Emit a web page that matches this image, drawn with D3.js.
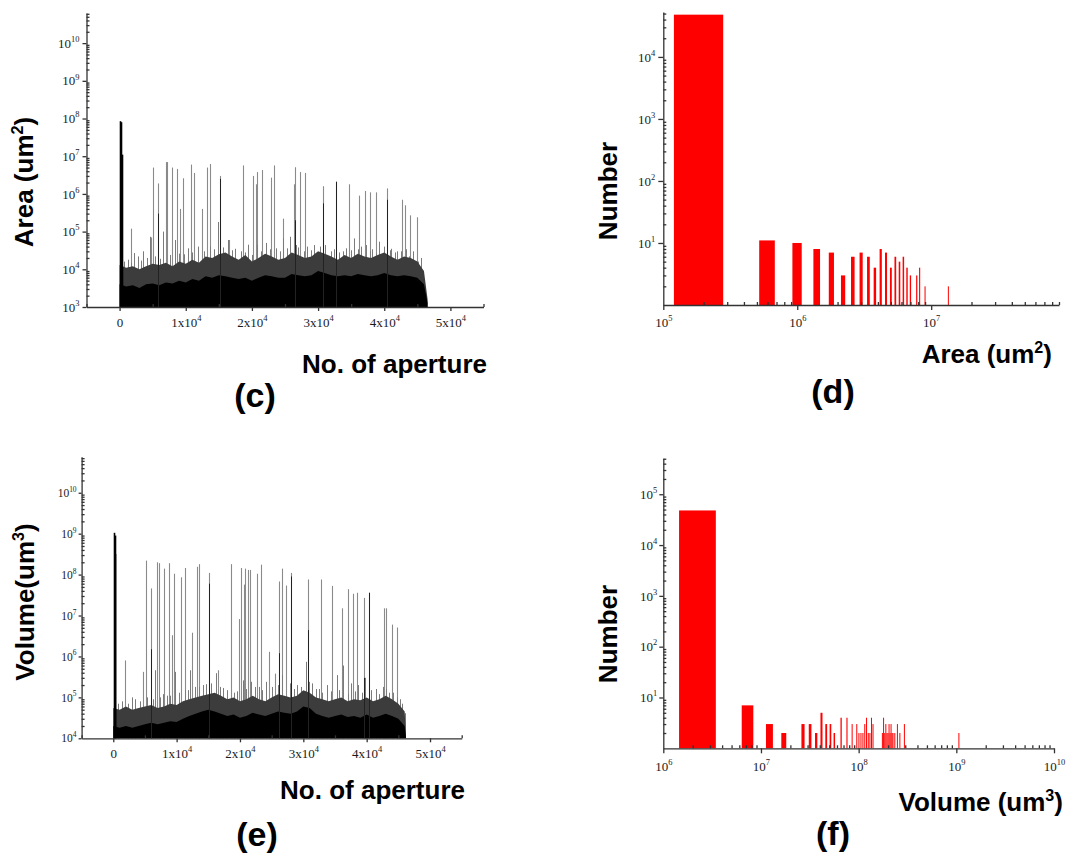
<!DOCTYPE html>
<html>
<head>
<meta charset="utf-8">
<script src="https://cdn.jsdelivr.net/npm/d3@7"></script>
<style>
    body { margin: 0; background: #fff; }
    svg { display: block; }
    .tick text { font-family: "Liberation Serif", "Times New Roman", serif; fill: #1a1a1a; }
    .domain, .tick line { stroke: #333; stroke-width: 1.3; }
    .title { font-family: "Liberation Sans", Arial, sans-serif; font-weight: bold; fill: #000; }
</style>
</head>
<body>
<div id="chart"></div>
<script>
// ---------- data ----------

// dense part of the aperture plots, read every 1000 apertures
const bandSteps = [0, 1000, 2000, 3000, 4000, 5000, 6000, 7000, 8000, 9000,
    10000, 11000, 12000, 13000, 14000, 15000, 16000, 17000, 18000, 19000,
    20000, 21000, 22000, 23000, 24000, 25000, 26000, 27000, 28000, 29000,
    30000, 31000, 32000, 33000, 34000, 35000, 36000, 37000, 38000, 39000,
    40000, 41000, 42000, 43000, 44000, 45000, 46000];
const areaEnd = 46550;
const volumeEnd = 46200;

// (c) area: grey band top and black core top (um2), last value is the end point
const areaBand = [13000, 11000, 12000, 10000, 12000, 14000, 13000, 15000, 12000, 16000,
    14000, 18000, 15000, 22000, 20000, 25000, 28000, 22000, 18000, 24000,
    16000, 20000, 26000, 22000, 18000, 20000, 28000, 24000, 20000, 22000,
    30000, 26000, 22000, 18000, 24000, 20000, 26000, 22000, 20000, 24000,
    28000, 22000, 18000, 22000, 20000, 16000, 9000, 1600];
const areaCore = [4000, 3500, 3800, 3200, 4000, 4200, 3800, 4500, 4200, 5000,
    4500, 5500, 5000, 6500, 6000, 7000, 6500, 6000, 5500, 6000,
    5000, 6000, 7000, 6500, 6000, 6000, 7500, 7000, 6500, 7000,
    9000, 8000, 7000, 6500, 7000, 6500, 7500, 7000, 6500, 7000,
    8000, 7000, 6500, 7000, 6500, 6000, 4000, 1300];

// (c) spikes [aperture no., area]
const areaPeak = [[60, 8.5e7], [200, 8e7], [350, 1.1e7]];
const areaSpikes = [[1717, 1.2e5], [4750, 7e4], [5050, 5e6], [5860, 1.9e6], [6970, 7e6],
    [7220, 7e6], [7930, 5e6], [8740, 4.6e6], [9190, 4e5], [9550, 2.6e6],
    [10760, 6e6], [11310, 3.6e6], [12420, 4e5], [13180, 5e6], [13640, 6.2e6],
    [15150, 3e6], [16520, 6e4], [18640, 5.7e6], [20200, 3e6], [20560, 1.8e6],
    [20810, 3.8e6], [21460, 4.3e6], [22830, 2.7e6], [23380, 5.7e6], [24700, 2.2e5],
    [26310, 1.8e6], [26570, 5.1e6], [27270, 3.8e6], [27980, 3.6e6], [30760, 1.6e6],
    [32780, 2.1e6], [34650, 1.8e6], [36160, 9e5], [37070, 1.2e6], [37880, 1.1e6],
    [38690, 1.1e6], [40400, 1.4e6], [42680, 7e5], [43130, 5e5], [43940, 2.7e5],
    [44950, 2.4e5]];
const areaDarkSpikes = [[5860, 3e5], [15150, 2.5e6], [26570, 2e5], [30760, 5.6e5],
    [32780, 2.1e6], [40400, 7e5]];
const areaSmallSpikes = [[600, 16000], [1300, 18000], [1800, 15000], [2200, 27000],
    [2850, 22000], [3200, 17000], [3600, 30000], [4100, 20000], [4600, 73000],
    [5400, 22000], [6100, 19000], [6600, 100000], [7600, 24000], [8400, 60000],
    [9000, 26000], [9700, 25000], [10400, 36000], [11000, 28000], [11900, 40000],
    [12800, 30000], [13700, 40000], [14200, 34000], [14900, 180000], [15600, 38000],
    [16400, 60000], [17000, 32000], [17500, 35000], [18400, 30000], [18900, 28000],
    [19400, 45000], [20000, 24000], [20700, 45000], [21300, 30000], [22200, 50000],
    [22800, 34000], [23700, 36000], [24200, 30000], [24700, 66000], [25300, 36000],
    [25800, 73000], [26600, 44000], [27000, 38000], [27800, 30000], [28400, 40000],
    [29000, 32000], [29400, 44000], [30300, 40000], [31100, 44000], [31900, 30000],
    [32400, 34000], [33200, 28000], [33800, 30000], [34200, 36000], [35000, 32000],
    [35400, 66000], [36000, 34000], [36500, 40000], [37200, 44000], [37800, 30000],
    [38200, 34000], [38700, 26000], [39200, 54000], [40000, 40000], [40800, 32000],
    [41000, 35000], [41600, 28000], [42000, 30000], [42500, 30000], [43300, 34000],
    [43800, 22000], [44400, 30000], [45100, 16000], [45600, 20000]];

// (e) volume: grey band top and black core top (um3)
const volumeBand = [55000, 50000, 60000, 50000, 55000, 60000, 65000, 55000, 60000, 70000,
    65000, 80000, 90000, 100000, 110000, 120000, 130000, 110000, 90000, 100000,
    80000, 90000, 110000, 90000, 80000, 100000, 120000, 110000, 100000, 110000,
    150000, 130000, 100000, 90000, 80000, 90000, 100000, 80000, 90000, 85000,
    100000, 80000, 90000, 110000, 90000, 70000, 45000, 12000];
const volumeCore = [20000, 18000, 20000, 18000, 20000, 22000, 24000, 22000, 24000, 26000,
    25000, 30000, 35000, 40000, 45000, 50000, 45000, 40000, 35000, 38000,
    32000, 35000, 42000, 38000, 35000, 40000, 45000, 42000, 40000, 45000,
    60000, 55000, 40000, 35000, 32000, 35000, 38000, 33000, 35000, 32000,
    38000, 32000, 35000, 40000, 35000, 30000, 20000, 11000];

// (e) spikes [aperture no., volume]
const volumePeak = [[60, 1.05e9], [200, 9e8], [350, 3.2e8]];
const volumeSpikes = [[1840, 8e5], [4740, 4.2e5], [5100, 2.2e8], [5890, 4.6e7], [6840, 2.0e8],
    [7160, 1.9e8], [8000, 1.4e8], [8790, 1.9e8], [9210, 3.3e6], [9530, 1.05e8],
    [10680, 8.6e7], [11370, 1.45e8], [12420, 3.8e6], [13210, 1.55e8], [13580, 1.8e8],
    [15100, 1.1e8], [16580, 4.6e5], [18630, 1.8e8], [19790, 8.2e6], [20160, 1.45e8],
    [20580, 5.7e7], [20840, 1.4e8], [21320, 1.3e8], [21580, 1.3e8], [22680, 1.05e8],
    [23320, 1.75e8], [24630, 1.3e6], [25580, 3.8e5], [26210, 6.8e7], [26580, 1.4e8],
    [27210, 5.4e7], [28000, 1.1e8], [30790, 7.6e7], [32740, 7.6e7], [34580, 5.3e7],
    [36110, 1.5e7], [37000, 4.4e7], [37890, 3.4e7], [38530, 3.6e7], [39630, 2.7e7],
    [40320, 3.6e7], [42740, 1.5e7], [43050, 1.5e7], [43950, 6e6], [44840, 5.1e6]];
const volumeDarkSpikes = [[5890, 1.5e6], [15100, 6e7], [26210, 1.2e6], [28000, 9e7],
    [30790, 4.4e6], [39630, 3e5], [40320, 3.6e7]];
const volumeSmallSpikes = [[700, 7e4], [1400, 8e4], [2400, 7e4], [2900, 1e5], [3400, 9e4],
    [4200, 8e4], [5400, 1e5], [6200, 9e4], [6600, 4.6e5], [7400, 1e5], [7900, 1.2e5],
    [8500, 1.1e5], [9000, 1.1e5], [9750, 4.2e5], [10300, 1.3e5], [11300, 1.5e5],
    [11800, 1.5e5], [12100, 4.6e5], [12900, 1.8e5], [13600, 1.8e5], [14200, 2e5],
    [14700, 2.1e5], [15500, 2.2e5], [16200, 3.9e5], [16800, 1.8e5], [17300, 1.7e5],
    [18000, 1.5e5], [19100, 1.3e5], [19600, 1.4e5], [20400, 2.6e5], [21000, 1.6e5],
    [21700, 2.4e5], [22300, 1.8e5], [23000, 1.8e5], [23500, 1.5e5], [24100, 2.4e5],
    [25000, 1.8e5], [26000, 2e5], [26600, 3.5e5], [27900, 2.2e5], [28500, 1.6e5],
    [29000, 2e5], [29600, 1.8e5], [30400, 7.4e5], [30900, 2.4e5], [31300, 2.2e5],
    [32000, 1.6e5], [32400, 1.6e5], [33000, 1.3e5], [33700, 2e5], [34300, 1.4e5],
    [35300, 3.5e5], [35700, 1.5e5], [36300, 6e5], [37000, 1.2e5], [37600, 2.2e5],
    [38200, 1.4e5], [38700, 2e5], [39300, 1.3e5], [39700, 3e5], [40700, 1.5e5],
    [41500, 1.6e5], [41900, 1.2e5], [42600, 1.8e5], [43000, 1.6e5], [43600, 1.3e5],
    [44200, 1.3e5], [44800, 1e5], [45200, 9e4], [45600, 7e4], [46100, 4.1e4]];

// (d) area histogram: bin centres (um2) and counts
const areaBins = [2e5, 6e5, 1.0e6, 1.4e6, 1.8e6, 2.2e6, 2.6e6, 3.0e6, 3.4e6, 3.8e6,
    4.2e6, 4.6e6, 5.0e6, 5.4e6, 5.8e6, 6.2e6, 6.6e6, 7.0e6, 7.8e6, 8.2e6, 9.0e6, 13.4e6];
const areaCounts = [48000, 11, 10, 8, 7, 3, 6, 7, 6, 4,
    8, 7, 4, 6, 5, 6, 4, 3, 3, 4, 2, 2];

// (f) volume histogram: bin centres (um3) and counts
const volumeBins = [2.45e6, 7.35e6, 12.25e6, 17.15e6, 26.95e6, 31.85e6, 36.75e6, 41.65e6,
    46.55e6, 51.45e6, 56.35e6, 66.15e6, 75.95e6, 85.75e6, 95.55e6, 100.45e6, 105.35e6,
    110.25e6, 115.15e6, 120.05e6, 124.95e6, 129.85e6, 134.75e6, 139.65e6, 173.95e6,
    178.85e6, 183.75e6, 188.65e6, 193.55e6, 198.45e6, 203.35e6, 208.25e6, 213.15e6,
    218.05e6, 222.95e6, 232.75e6, 247.45e6, 262.15e6, 291.55e6, 1051.05e6];
const volumeCounts = [48000, 7, 3, 2, 3, 3, 2, 5, 3, 3, 2, 4, 4, 3, 3, 2, 2, 2, 3, 4,
    2, 2, 4, 3, 2, 4, 2, 3, 2, 2, 3, 2, 3, 2, 2, 2, 3, 2, 3, 2];

// tick labels
const apertureTicks = [0, 10000, 20000, 30000, 40000, 50000];
const apertureLabels = [["0", ""], ["1x10", "4"], ["2x10", "4"], ["3x10", "4"], ["4x10", "4"], ["5x10", "4"]];
const apertureMinor = [-5000, 5000, 15000, 25000, 35000, 45000, 55000];

// ---------- drawing ----------
const svg = d3.select("#chart").append("svg")
              .attr("width", 1066)
              .attr("height", 855);

svg.append("rect").attr("width", 1066).attr("height", 855).attr("fill", "#fff");

// replace a tick label with base + superscript
function supText(text, base, exp, size) {
    text.text(null);
    text.append("tspan").text(base);
    if (exp) {
        text.append("tspan")
            .attr("dy", -size * 0.45)
            .attr("font-size", size * 0.65)
            .text(exp);
    }
}

// log minor ticks (2..9 of each decade) inside the domain
function logMinors(scale) {
    const [lo, hi] = scale.domain();
    const out = [];
    for (let e = Math.floor(Math.log10(lo)); e <= Math.ceil(Math.log10(hi)); e++) {
        for (let m = 2; m <= 9; m++) {
            const v = m * Math.pow(10, e);
            if (v > lo * 1.0001 && v <= hi * 1.0001) out.push(v);
        }
    }
    return out;
}

// left log axis with 10^n labels
function leftLogAxis(xPos, y, majors, size, tick, pad) {
    const g = svg.append("g").attr("transform", `translate(${xPos},0)`);
    g.append("g")
     .call(d3.axisLeft(y).tickValues(logMinors(y)).tickSizeInner(-3).tickSizeOuter(0).tickFormat(""))
     .call(a => a.select(".domain").remove());
    g.append("g")
     .call(d3.axisLeft(y).tickValues(majors).tickSizeInner(tick).tickSizeOuter(0).tickPadding(pad))
     .call(a => a.selectAll(".tick text")
                 .attr("font-size", size)
                 .each(function(d) { supText(d3.select(this), "10", String(Math.round(Math.log10(d))), size); }));
}

// bottom log axis with 10^n labels
function bottomLogAxis(yPos, x, majors, size, pad) {
    const g = svg.append("g").attr("transform", `translate(0,${yPos})`);
    g.append("g")
     .call(d3.axisBottom(x).tickValues(logMinors(x)).tickSizeInner(-3).tickSizeOuter(0).tickFormat(""))
     .call(a => a.select(".domain").remove());
    g.append("g")
     .call(d3.axisBottom(x).tickValues(majors).tickSizeInner(5).tickSizeOuter(0).tickPadding(pad))
     .call(a => a.selectAll(".tick text")
                 .attr("font-size", size)
                 .each(function(d) { supText(d3.select(this), "10", String(Math.round(Math.log10(d))), size); }));
}

// bottom aperture axis
function apertureAxis(yPos, x, size, pad) {
    const g = svg.append("g").attr("transform", `translate(0,${yPos})`);
    g.append("g")
     .call(d3.axisBottom(x).tickValues(apertureMinor).tickSizeInner(-3).tickSizeOuter(0).tickFormat(""))
     .call(a => a.select(".domain").remove());
    g.append("g")
     .call(d3.axisBottom(x).tickValues(apertureTicks).tickSizeInner(4).tickSizeOuter(0).tickPadding(pad))
     .call(a => a.selectAll(".tick text")
                 .attr("font-size", size)
                 .each(function(d, i) { supText(d3.select(this), apertureLabels[i][0], apertureLabels[i][1], size); }));
}

// bold title with optional superscript part
function title(x, y, parts, size, rotate, anchor) {
    const t = svg.append("text")
                 .attr("class", "title")
                 .attr("font-size", size)
                 .attr("text-anchor", anchor)
                 .attr("transform", `translate(${x},${y})` + (rotate ? " rotate(-90)" : ""));
    parts.forEach(([s, up]) => {
        t.append("tspan")
         .attr("dy", up === 1 ? -size * 0.38 : up === -1 ? size * 0.38 : 0)
         .attr("font-size", up === 1 ? size * 0.62 : size)
         .text(s);
    });
}

// aperture spectrum panel
function spectrum(x, y, end, band, core, spikes, darkSpikes, smallSpikes, peak) {
    const y0 = y.range()[0];
    const g = svg.append("g");

    const line = (data, color, w) => g.append("g")
        .selectAll("line")
        .data(data)
        .join("line")
        .attr("x1", d => Math.round(x(d[0])) + 0.5)
        .attr("x2", d => Math.round(x(d[0])) + 0.5)
        .attr("y1", y0)
        .attr("y2", d => y(d[1]))
        .attr("stroke", color)
        .attr("stroke-width", w);

    line(spikes, "#8a8a8a", 1.1);
    line(smallSpikes, "#7a7a7a", 1);

    const steps = bandSteps.concat([end]);
    const area = d3.area()
                   .x(d => x(d[0]))
                   .y0(y0)
                   .y1(d => y(d[1]));

    g.append("path").attr("d", area(d3.zip(steps, band))).attr("fill", "#3c3c3c");
    g.append("path").attr("d", area(d3.zip(steps, core))).attr("fill", "#000");

    line(darkSpikes, "#222", 1);
    line(peak, "#000", 1.6);
}

// histogram panel
function histogram(x, y, bins, counts, half) {
    svg.append("g")
       .selectAll("rect")
       .data(d3.zip(bins, counts))
       .join("rect")
       .attr("x", d => x(d[0] - half))
       .attr("width", d => Math.max(1, x(d[0] + half) - x(d[0] - half)))
       .attr("y", d => y(d[1]))
       .attr("height", d => y(1) - y(d[1]))
       .attr("fill", "#ff0000");
}

// ----- (c) -----
const xC = d3.scaleLinear().domain([-5000, 55000]).range([86.5, 483.5]);
const yC = d3.scaleLog().domain([1e3, 6.3e10]).range([307, 13]);
spectrum(xC, yC, areaEnd, areaBand, areaCore, areaSpikes, areaDarkSpikes, areaSmallSpikes, areaPeak);
leftLogAxis(86.5, yC, [1e3, 1e4, 1e5, 1e6, 1e7, 1e8, 1e9, 1e10], 13, 4, 3);
apertureAxis(307, xC, 13, 7);
title(33, 182, [["Area (um", 0], ["2", 1], [")", -1]], 26, true, "middle");
title(487, 373, [["No. of aperture", 0]], 26, false, "end");
title(255, 407, [["(c)", 0]], 34, false, "middle");

// ----- (d) -----
const xD = d3.scaleLog().domain([1e5, 9e7]).range([663.3, 1059]);
const yD = d3.scaleLog().domain([1, 53000]).range([305, 12]);
histogram(xD, yD, areaBins, areaCounts, 0.8e5);
leftLogAxis(663.3, yD, [1e1, 1e2, 1e3, 1e4], 13, 5, 3);
bottomLogAxis(305, xD, [1e5, 1e6, 1e7], 13, 8);
title(617, 191, [["Number", 0]], 26, true, "middle");
title(1052, 363, [["Area (um", 0], ["2", 1], [")", -1]], 26, false, "end");
title(833, 403, [["(d)", 0]], 34, false, "middle");

// ----- (e) -----
const xE = d3.scaleLinear().domain([-5000, 55000]).range([81.6, 461.7]);
const yE = d3.scaleLog().domain([1e4, 7.6e10]).range([738.3, 456.7]);
spectrum(xE, yE, volumeEnd, volumeBand, volumeCore, volumeSpikes, volumeDarkSpikes, volumeSmallSpikes, volumePeak);
leftLogAxis(81.6, yE, [1e4, 1e5, 1e6, 1e7, 1e8, 1e9, 1e10], 11.5, 3, 2);
apertureAxis(738.3, xE, 13, 6);
title(34, 602, [["Volume(um", 0], ["3", 1], [")", -1]], 26, true, "middle");
title(465, 799, [["No. of aperture", 0]], 26, false, "end");
title(257, 846, [["(e)", 0]], 34, false, "middle");

// ----- (f) -----
const xF = d3.scaleLog().domain([1e6, 1e10]).range([663.3, 1054]);
const yF = d3.scaleLog().domain([1, 5.1e5]).range([748.3, 458.3]);
histogram(xF, yF, volumeBins, volumeCounts, 1e6);
leftLogAxis(663.3, yF, [1e1, 1e2, 1e3, 1e4, 1e5], 13, 4, 2);
bottomLogAxis(748.3, xF, [1e6, 1e7, 1e8, 1e9, 1e10], 13, 8);
title(617, 634, [["Number", 0]], 26, true, "middle");
title(1063, 811, [["Volume (um", 0], ["3", 1], [")", -1]], 26, false, "end");
title(833, 845, [["(f)", 0]], 34, false, "middle");
</script>
</body>
</html>
